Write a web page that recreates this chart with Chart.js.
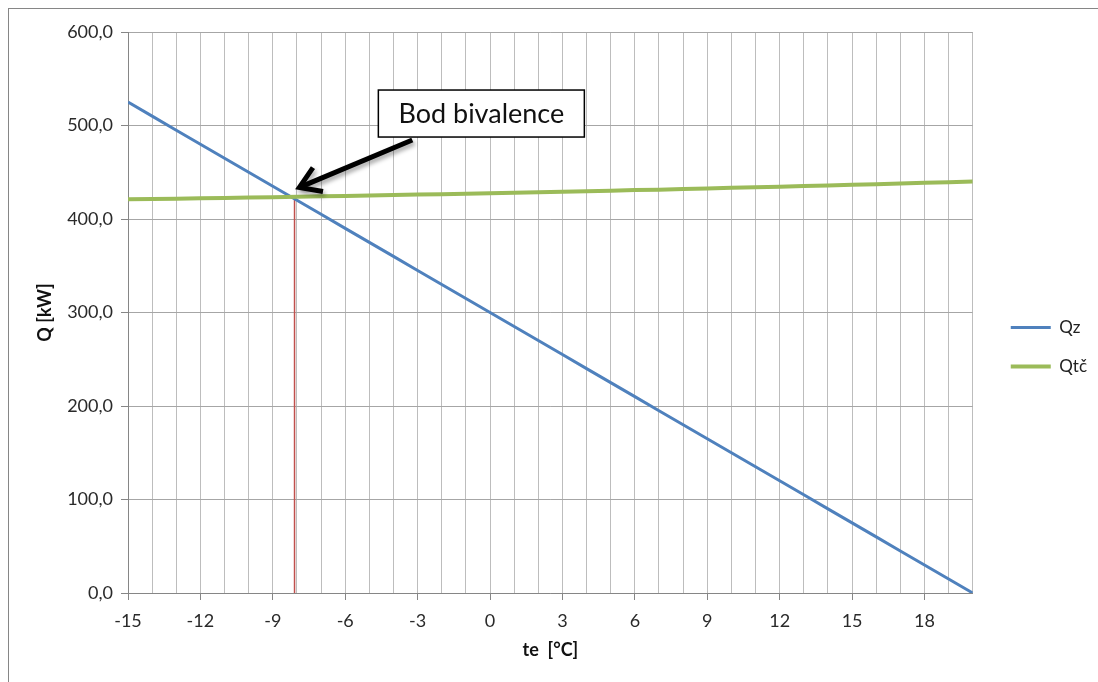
<!DOCTYPE html>
<html>
<head>
<meta charset="utf-8">
<script src="https://cdn.jsdelivr.net/npm/chart.js@4/dist/chart.umd.min.js"></script>
<style>
  html, body { margin: 0; padding: 0; background: #fff; overflow: hidden; }
  #wrap { position: relative; width: 1098px; height: 682px; }
  #frame { position: absolute; left: 8px; top: 8px; width: 1200px; height: 800px;
           border-left: 1px solid #868686; border-top: 1px solid #868686; }
  canvas { position: absolute; left: 0; top: 0; }
</style>
</head>
<body>
<div id="wrap">
  <div id="frame"></div>
  <canvas id="c" width="1098" height="682"></canvas>
</div>
<script>
// ---- data ----
const temps = [-15,-14,-13,-12,-11,-10,-9,-8,-7,-6,-5,-4,-3,-2,-1,0,1,2,3,4,5,6,7,8,9,10,11,12,13,14,15,16,17,18,19,20];
const qz = [525,510,495,480,465,450,435,420,405,390,375,360,345,330,315,300,285,270,255,240,225,210,195,180,165,150,135,120,105,90,75,60,45,30,15,0];
const qtc = [421.0,421.4,421.7,422.1,422.5,422.9,423.3,423.8,424.2,424.7,425.1,425.6,426.1,426.6,427.1,427.6,428.1,428.6,429.2,429.7,430.3,430.9,431.4,432.0,432.6,433.3,433.9,434.5,435.2,435.8,436.5,437.2,437.9,438.7,439.3,440.0];
const bivalenceT = [-8.1, -8.1];
const bivalenceQ = [0, 424];
const seriesLabels = ['Qz', 'Qtč'];
const xTitle = 'te  [°C]';
const yTitle = 'Q [kW]';
const calloutText = 'Bod bivalence';
const calloutBox = { t: -0.36, q: 512.8 };       // box centre (data units)
const arrowFrom = { t: -3.22, q: 484.5 };        // arrow tail (data units)
const arrowTo = { t: -7.9, q: 433.8 };           // arrow tip (data units)

const FONT = 'Lato, "Open Sans", sans-serif';
const toPts = (xs, ys) => xs.map((x, i) => ({ x: x, y: ys[i] }));

const calloutPlugin = {
  id: 'callout',
  afterDraw(chart) {
    const { ctx, scales: { x, y } } = chart;
    // arrow
    const x1 = x.getPixelForValue(arrowFrom.t), y1 = y.getPixelForValue(arrowFrom.q);
    const x2 = x.getPixelForValue(arrowTo.t), y2 = y.getPixelForValue(arrowTo.q);
    const ang = Math.atan2(y2 - y1, x2 - x1);
    ctx.save();
    ctx.shadowColor = 'rgba(0,0,0,0.35)';
    ctx.shadowBlur = 4;
    ctx.shadowOffsetX = 2;
    ctx.shadowOffsetY = 3;
    ctx.strokeStyle = '#000';
    ctx.lineWidth = 5;
    ctx.lineCap = 'butt';
    ctx.lineJoin = 'miter';
    ctx.beginPath();
    ctx.moveTo(x1, y1);
    ctx.lineTo(x2 - 2 * Math.cos(ang), y2 - 2 * Math.sin(ang));
    ctx.stroke();
    const hl = 24, ha = Math.PI / 5.5;
    ctx.beginPath();
    ctx.moveTo(x2 - hl * Math.cos(ang - ha), y2 - hl * Math.sin(ang - ha));
    ctx.lineTo(x2, y2);
    ctx.lineTo(x2 - hl * Math.cos(ang + ha), y2 - hl * Math.sin(ang + ha));
    ctx.stroke();
    ctx.restore();
    // box
    const cx = x.getPixelForValue(calloutBox.t), cy = y.getPixelForValue(calloutBox.q);
    const w = 206, h = 47;
    ctx.save();
    ctx.fillStyle = '#fff';
    ctx.fillRect(cx - w / 2, cy - h / 2, w, h);
    ctx.strokeStyle = '#000';
    ctx.lineWidth = 1.5;
    ctx.strokeRect(cx - w / 2, cy - h / 2, w, h);
    ctx.fillStyle = '#111';
    ctx.font = '27px ' + FONT;
    ctx.textAlign = 'center';
    ctx.textBaseline = 'middle';
    ctx.fillText(calloutText, cx, cy + 1);
    ctx.restore();
  }
};

const labelled = v => Math.round(v + 15) % 3 === 0 && v < 20;

new Chart(document.getElementById('c'), {
  type: 'line',
  data: {
    datasets: [
      { label: seriesLabels[0], data: toPts(temps, qz), borderColor: '#4f81bd', backgroundColor: '#4f81bd',
        borderWidth: 3, pointRadius: 0, order: 1 },
      { label: seriesLabels[1], data: toPts(temps, qtc), borderColor: '#9bbb59', backgroundColor: '#9bbb59',
        borderWidth: 4, pointRadius: 0, order: 0 },
      { label: 'bivalence', data: toPts(bivalenceT, bivalenceQ), borderColor: '#c0504d', backgroundColor: '#c0504d',
        borderWidth: 1.5, pointRadius: 0, order: 2 }
    ]
  },
  options: {
    responsive: false,
    animation: false,
    layout: { padding: { left: 10, top: 32, bottom: 20, right: 1 } },
    plugins: {
      tooltip: { enabled: false },
      legend: {
        position: 'right',
        align: 'center',
        labels: {
          usePointStyle: true,
          pointStyle: 'line',
          pointStyleWidth: 40,
          padding: 22,
          color: '#222',
          font: { family: FONT, size: 17 },
          filter: item => item.datasetIndex !== 2,
          sort: (a, b) => a.datasetIndex - b.datasetIndex
        }
      }
    },
    scales: {
      x: {
        type: 'linear',
        min: -15, max: 20,
        afterFit: s => { s.height = 69; },
        ticks: {
          stepSize: 1, autoSkip: false, maxRotation: 0, padding: 10,
          color: '#2a2a2a', font: { family: FONT, size: 18 },
          callback: v => labelled(v) ? String(v) : ''
        },
        grid: {
          color: '#bdbdbd', lineWidth: 1, tickLength: 7,
          tickColor: c => (c.tick && labelled(c.tick.value)) ? '#868686' : 'rgba(0,0,0,0)'
        },
        border: { color: '#868686' },
        title: { display: true, text: xTitle, color: '#111', font: { family: FONT, size: 18, weight: 'bold' }, padding: { bottom: 1, top: 0 } }
      },
      y: {
        min: 0, max: 600,
        afterFit: s => { s.width = 118; },
        ticks: {
          stepSize: 100, padding: 8, color: '#2a2a2a', font: { family: FONT, size: 18 },
          callback: v => v.toFixed(1).replace('.', ',')
        },
        grid: { color: '#a6a6a6', lineWidth: 1, tickLength: 7, tickColor: '#868686' },
        border: { color: '#868686' },
        title: { display: true, text: yTitle, color: '#111', font: { family: FONT, size: 18, weight: 'bold' }, padding: { top: 24, bottom: 0 } }
      },
      yR: {
        position: 'right',
        display: true,
        afterFit: s => { s.width = 16; },
        ticks: { display: false },
        grid: { display: false, drawTicks: false },
        border: { display: false }
      }
    }
  },
  plugins: [calloutPlugin]
});
</script>
</body>
</html>
